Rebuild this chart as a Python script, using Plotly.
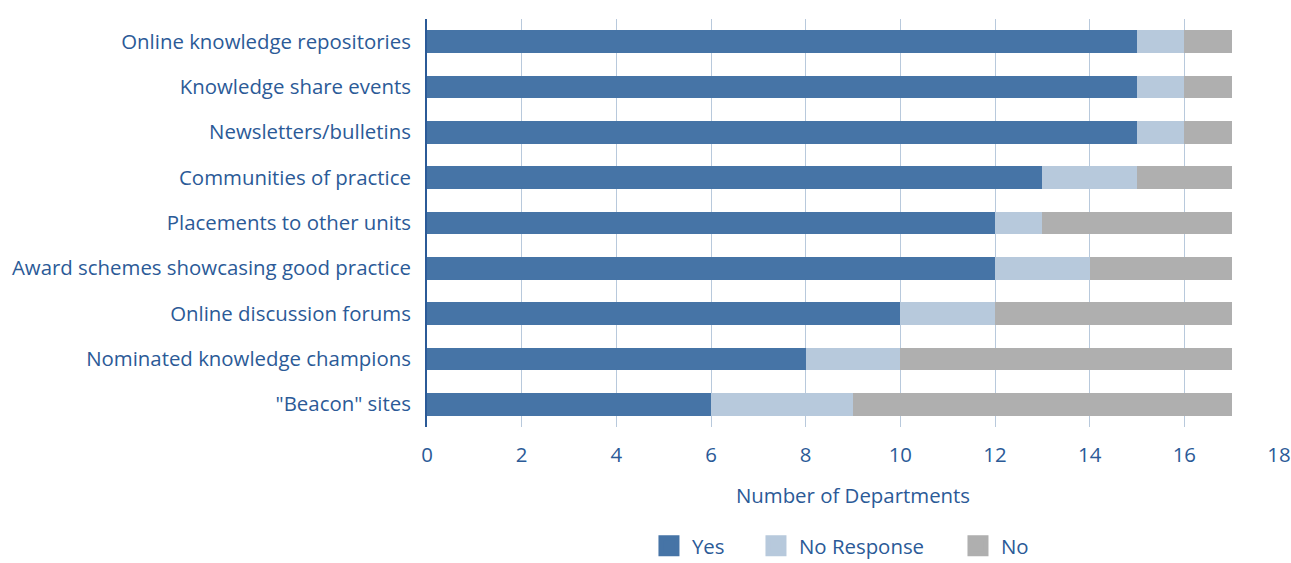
import plotly.graph_objects as go

categories = [
    "Online knowledge repositories",
    "Knowledge share events",
    "Newsletters/bulletins",
    "Communities of practice",
    "Placements to other units",
    "Award schemes showcasing good practice",
    "Online discussion forums",
    "Nominated knowledge champions",
    "\"Beacon\" sites",
]
yes_vals = [15, 15, 15, 13, 12, 12, 10, 8, 6]
noresp_vals = [1, 1, 1, 2, 1, 2, 2, 2, 3]
no_vals = [1, 1, 1, 2, 4, 3, 5, 7, 8]
x_ticks = [0, 2, 4, 6, 8, 10, 12, 14, 16, 18]

series = [("Yes", yes_vals, "#4674a6"),
          ("No Response", noresp_vals, "#b7c9dc"),
          ("No", no_vals, "#afafaf")]
legend_ids = ["legend", "legend2", "legend3"]
legend_x = [0.257, 0.3826, 0.6197]

text_color = "#2b5a97"
font_family = "'Open Sans', sans-serif"
fs = 20.4

fig = go.Figure()
for name, vals, color in series:
    fig.add_trace(go.Bar(
        y=categories, x=vals, name=name, orientation="h",
        marker=dict(color=color, line=dict(width=0)),
        width=0.5, showlegend=False,
    ))
for (name, vals, color), lid in zip(series, legend_ids):
    fig.add_trace(go.Scatter(
        x=[None], y=[None], mode="markers", name=name,
        marker=dict(symbol="square", size=20, color=color, line=dict(color=color, width=5)),
        showlegend=True, legend=lid,
    ))

legend_common = dict(orientation="h", y=-0.3407, yanchor="bottom", xanchor="left",
                     font=dict(size=fs, color=text_color), itemsizing="trace",
                     itemwidth=36, bgcolor="rgba(0,0,0,0)")
layout_legends = {}
for lid, lx in zip(legend_ids, legend_x):
    layout_legends[lid] = dict(legend_common, x=lx)

fig.update_layout(
    barmode="stack",
    width=1291, height=563,
    margin=dict(l=427, r=12, t=19, b=136, autoexpand=False),
    plot_bgcolor="white", paper_bgcolor="white",
    font=dict(family=font_family, size=fs, color=text_color),
    xaxis=dict(range=[0, 18], tickvals=x_ticks, showgrid=True, gridcolor="#b8c9dc",
               gridwidth=1, zeroline=False, showline=False, ticks="",
               automargin=False, ticklabelstandoff=14,
               title=dict(text="Number of Departments", standoff=21,
                          font=dict(size=fs, color=text_color)),
               tickfont=dict(size=fs, color=text_color)),
    yaxis=dict(autorange="reversed", showline=True, linecolor="#2b5a97", linewidth=2,
               ticks="", ticklabelstandoff=10, showgrid=False, automargin=False,
               tickfont=dict(size=fs, color=text_color)),
    **layout_legends,
)

fig.write_html("out.html")
